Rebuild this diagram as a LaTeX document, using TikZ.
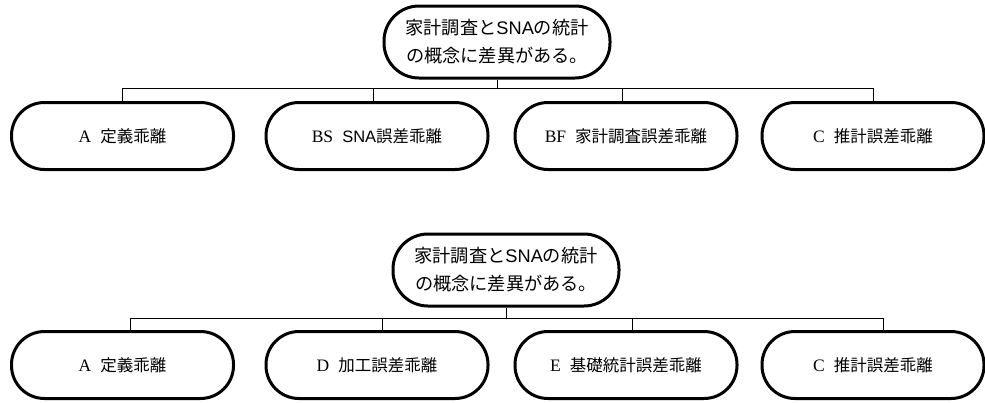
\documentclass[tikz,border=0pt]{standalone}
\usepackage{fontspec}
\setmainfont{Liberation Serif}
\newfontfamily\jp{Noto Sans CJK JP}
\newfontfamily\arial{Liberation Sans}
\newcommand{\gap}{\hspace{0.55em}}
\newcommand{\lat}[1]{{\fontsize{17.5}{18}\selectfont #1}}
\begin{document}
\begin{tikzpicture}[x=1pt,y=-1pt,
  rootbox/.style={draw,line width=3pt,rounded corners=35pt,minimum width=226pt,minimum height=72pt,inner sep=0pt,align=center,font=\fontsize{18.2}{28}\selectfont\jp},
  leafbox/.style={draw,line width=3pt,rounded corners=33pt,minimum width=222pt,minimum height=67pt,inner sep=0pt,font=\fontsize{16.5}{18}\selectfont},
  link/.style={line width=0.8pt}]
\useasboundingbox (0,0) rectangle (985,402);
% ---- upper tree ----
\node[rootbox] (r1) at (497,42) {家計調査と{\arial SNA}の統計\\の概念に差異がある。};
\node[leafbox] (a1) at (122.5,136) {\lat{A}\gap{\jp 定義乖離}};
\node[leafbox] (b1) at (377,136) {\lat{BS}\gap{\arial SNA}{\jp 誤差乖離}};
\node[leafbox] (c1) at (626,136) {\lat{BF}\gap{\jp 家計調査誤差乖離}};
\node[leafbox] (d1) at (873,136) {\lat{C}\gap{\jp 推計誤差乖離}};
\coordinate (bus1) at (497,88);
\draw[link] (r1.south) -- (bus1);
\draw[link] (a1.north) |- (bus1);
\draw[link] ([xshift=-4pt]b1.north) |- (bus1);
\draw[link] ([xshift=-4pt]c1.north) |- (bus1);
\draw[link] (d1.north) |- (bus1);
% ---- lower tree ----
\node[rootbox] (r2) at (506,270) {家計調査と{\arial SNA}の統計\\の概念に差異がある。};
\node[leafbox] (a2) at (122.5,365) {\lat{A}\gap{\jp 定義乖離}};
\node[leafbox] (b2) at (377,365) {\lat{D}\gap{\jp 加工誤差乖離}};
\node[leafbox] (c2) at (626,365) {\lat{E}\gap{\jp 基礎統計誤差乖離}};
\node[leafbox] (d2) at (873,365) {\lat{C}\gap{\jp 推計誤差乖離}};
\coordinate (bus2) at (506,318);
\draw[link] (r2.south) -- (bus2);
\draw[link] ([xshift=8pt]a2.north) |- (bus2);
\draw[link] ([xshift=5pt]b2.north) |- (bus2);
\draw[link] ([xshift=6pt]c2.north) |- (bus2);
\draw[link] ([xshift=10pt]d2.north) |- (bus2);
\end{tikzpicture}
\end{document}
